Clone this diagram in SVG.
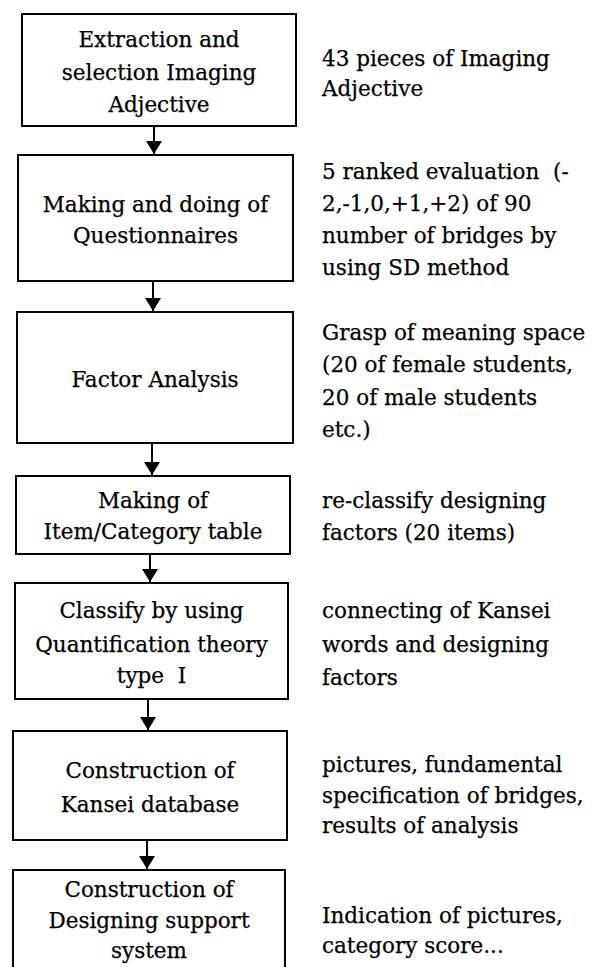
<svg xmlns="http://www.w3.org/2000/svg" width="592" height="967" viewBox="0 0 592 967">
<style>
.box{fill:#fff;stroke:#000;stroke-width:2}
.t{font-family:"DejaVu Serif","Liberation Serif",serif;font-size:21.5px;fill:#000;stroke:#000;stroke-width:0.25}
.c{text-anchor:middle}
.edge{stroke:#000;stroke-width:2;fill:none}
</style>
<defs>
<marker id="ah" markerUnits="userSpaceOnUse" markerWidth="14" markerHeight="18" refX="13" refY="8" orient="auto" viewBox="0 0 14 16">
<path d="M0,0 L13,8 L0,16 Z" fill="#000"/>
</marker>
</defs>
<rect width="592" height="967" fill="#fff"/>
<g id="connectors">
<line class="edge" x1="154" y1="126" x2="154" y2="154" marker-end="url(#ah)"/>
<line class="edge" x1="153" y1="281" x2="153" y2="311" marker-end="url(#ah)"/>
<line class="edge" x1="152" y1="443" x2="152" y2="475" marker-end="url(#ah)"/>
<line class="edge" x1="150" y1="554" x2="150" y2="582" marker-end="url(#ah)"/>
<line class="edge" x1="148" y1="699" x2="148" y2="730" marker-end="url(#ah)"/>
<line class="edge" x1="147" y1="840" x2="147" y2="869" marker-end="url(#ah)"/>
</g>
<g id="n1">
<rect class="box" x="22" y="14" width="274" height="112"/>
<text class="t c" x="159" y="47">Extraction and</text>
<text class="t c" x="159" y="80">selection Imaging</text>
<text class="t c" x="159" y="112">Adjective</text>
</g>
<g id="n2">
<rect class="box" x="18" y="155" width="275" height="126"/>
<text class="t c" x="155.5" y="212">Making and doing of</text>
<text class="t c" x="155.5" y="243">Questionnaires</text>
</g>
<g id="n3">
<rect class="box" x="17" y="312" width="276" height="131"/>
<text class="t c" x="155" y="387">Factor Analysis</text>
</g>
<g id="n4">
<rect class="box" x="16" y="476" width="274" height="78"/>
<text class="t c" x="153" y="508">Making of</text>
<text class="t c" x="153" y="539">Item/Category table</text>
</g>
<g id="n5">
<rect class="box" x="15" y="583" width="273" height="116"/>
<text class="t c" x="151.5" y="618">Classify by using</text>
<text class="t c" x="151.5" y="652">Quantification theory</text>
<text class="t c" x="151.5" y="683" xml:space="preserve">type  I</text>
</g>
<g id="n6">
<rect class="box" x="13" y="731" width="274" height="109"/>
<text class="t c" x="150" y="778">Construction of</text>
<text class="t c" x="150" y="812">Kansei database</text>
</g>
<g id="n7">
<path class="box" d="M13,968 L13,870 L285,870 L285,968"/>
<text class="t c" x="149" y="897">Construction of</text>
<text class="t c" x="149" y="928">Designing support</text>
<text class="t c" x="149" y="958">system</text>
</g>
<g id="notes">
<text class="t" x="322" y="66">43 pieces of Imaging</text>
<text class="t" x="322" y="96">Adjective</text>
<text class="t" x="322" y="179" xml:space="preserve">5 ranked evaluation  (-</text>
<text class="t" x="322" y="211">2,-1,0,+1,+2) of 90</text>
<text class="t" x="322" y="243">number of bridges by</text>
<text class="t" x="322" y="275">using SD method</text>
<text class="t" x="322" y="340">Grasp of meaning space</text>
<text class="t" x="322" y="372">(20 of female students,</text>
<text class="t" x="322" y="405">20 of male students</text>
<text class="t" x="322" y="437">etc.)</text>
<text class="t" x="322" y="508">re-classify designing</text>
<text class="t" x="322" y="540">factors (20 items)</text>
<text class="t" x="322" y="618">connecting of Kansei</text>
<text class="t" x="322" y="652">words and designing</text>
<text class="t" x="322" y="685">factors</text>
<text class="t" x="322" y="772">pictures, fundamental</text>
<text class="t" x="322" y="803">specification of bridges,</text>
<text class="t" x="322" y="833">results of analysis</text>
<text class="t" x="322" y="923">Indication of pictures,</text>
<text class="t" x="322" y="953">category score...</text>
</g>
</svg>
